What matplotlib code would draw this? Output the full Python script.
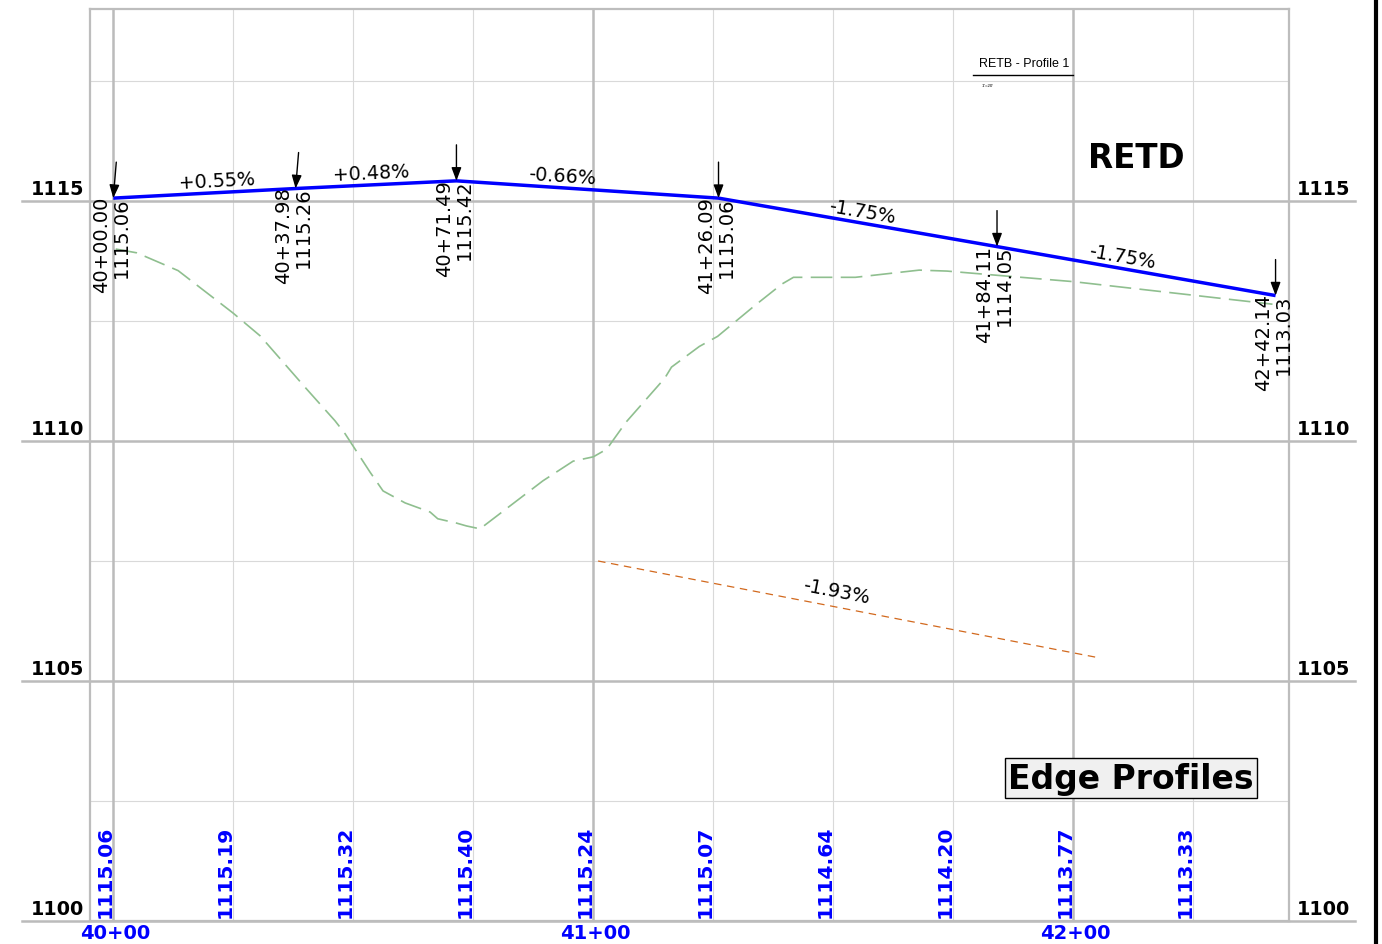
import numpy as np
import matplotlib
matplotlib.use("Agg")
import matplotlib.pyplot as plt
from matplotlib.lines import Line2D

# ---------------- data ----------------
pvi_sta = [4000.00, 4037.98, 4071.49, 4126.09, 4184.11, 4242.14]
pvi_elev = [1115.06, 1115.26, 1115.42, 1115.06, 1114.05, 1113.03]
pvi_sta_labels = ["40+00.00", "40+37.98", "40+71.49", "41+26.09", "41+84.11", "42+42.14"]
pvi_elev_labels = ["1115.06", "1115.26", "1115.42", "1115.06", "1114.05", "1113.03"]

grade_labels = ["+0.55%", "+0.48%", "-0.66%", "-1.75%", "-1.75%"]
grade_label_sta = [4021.7, 4053.75, 4093.3, 4155.6, 4209.7]

ground_sta = [4000.5, 4004.9, 4013.5, 4024.9, 4030.6, 4040.3, 4046.2, 4048.3, 4053.5,
              4056.2, 4060.8, 4066.0, 4067.6, 4071.5, 4073.6, 4076.4, 4089.5, 4095.8,
              4100.0, 4102.8, 4106.8, 4114.9, 4116.3, 4122.1, 4125.9, 4133.5, 4139.3,
              4141.7, 4154.6, 4167.9, 4173.7, 4183.2, 4200.0, 4241.5]
ground_elev = [1114.00, 1113.92, 1113.55, 1112.67, 1112.19, 1111.08, 1110.42, 1110.15, 1109.35,
               1108.96, 1108.71, 1108.52, 1108.38, 1108.29, 1108.23, 1108.17, 1109.17, 1109.58,
               1109.67, 1109.83, 1110.39, 1111.31, 1111.54, 1111.97, 1112.18, 1112.81, 1113.27,
               1113.41, 1113.41, 1113.56, 1113.54, 1113.46, 1113.32, 1112.85]

ditch_sta = [4101.0, 4205.0]
ditch_elev = [1107.50, 1105.49]
ditch_label = "-1.93%"
ditch_label_sta = 4151.4

bottom_sta = [4000, 4025, 4050, 4075, 4100, 4125, 4150, 4175, 4200, 4225]
bottom_elev_labels = ["1115.06", "1115.19", "1115.32", "1115.40", "1115.24",
                      "1115.07", "1114.64", "1114.20", "1113.77", "1113.33"]

station_ticks = [4000, 4100, 4200]
station_tick_labels = ["40+00", "41+00", "42+00"]
elev_ticks = [1100, 1105, 1110, 1115]
elev_tick_labels = ["1100", "1105", "1110", "1115"]
minor_x = [4025, 4050, 4075, 4125, 4150, 4175, 4225]
minor_y = [1102.5, 1107.5, 1112.5, 1117.5]

# ---------------- figure ----------------
W, H = 1382, 945
fig = plt.figure(figsize=(W / 100, H / 100), dpi=100)
fig.patch.set_facecolor("white")
ax = fig.add_axes([90 / W, 23 / H, 1199 / W, 912 / H])
ax.set_xlim(3995.15, 4244.94)
ax.set_ylim(1100, 1119)
ax.set_xticks([])
ax.set_yticks([])
for s in ax.spines.values():
    s.set_color("#bdbdbd")
    s.set_linewidth(1.6)

GRID_MAJ = "#bbbbbb"
GRID_MIN = "#d9d9d9"

for x in minor_x:
    ax.axvline(x, color=GRID_MIN, lw=0.8, zorder=0)
for y in minor_y:
    ax.axhline(y, color=GRID_MIN, lw=0.8, zorder=0)
for x in station_ticks:
    ax.axvline(x, color=GRID_MAJ, lw=1.8, zorder=0.5)
x_left = (22 - 90) / 1199
x_right = (1355 - 90) / 1199
for y in elev_ticks:
    ax.axhline(y, xmin=x_left, xmax=x_right, color=GRID_MAJ, lw=1.8, zorder=0.5, clip_on=False)

# ground (existing) line
ax.plot(ground_sta, ground_elev, color="#8fbf8f", lw=1.2, linestyle=(0, (13, 5)), zorder=2)

# ditch line
ax.plot(ditch_sta, ditch_elev, color="#d2691e", lw=0.9, linestyle=(0, (6, 4.5)), zorder=2)

# profile line
ax.plot(pvi_sta, pvi_elev, color="#0000ff", lw=2.5, zorder=3, solid_capstyle="butt")


def disp_angle(s1, e1, s2, e2):
    p1 = ax.transData.transform((s1, e1))
    p2 = ax.transData.transform((s2, e2))
    return np.degrees(np.arctan2(p2[1] - p1[1], p2[0] - p1[0]))


# arrows and PVI labels
tail_dx = [3, 3, 0, 0, 0, 0]
for i, (s, e) in enumerate(zip(pvi_sta, pvi_elev)):
    ax.annotate("", xy=(s, e), xytext=(tail_dx[i] * 0.72, 36 * 0.72), textcoords="offset points",
                arrowprops=dict(arrowstyle="-|>,head_length=0.8,head_width=0.3", color="black",
                                lw=1.0, shrinkA=0, shrinkB=0, mutation_scale=10), zorder=5)
    ax.annotate(pvi_sta_labels[i] + "\n" + pvi_elev_labels[i], xy=(s, e), xytext=(-1.5, 1.5),
                textcoords="offset points", rotation=90, ha="center", va="top",
                multialignment="right", fontsize=14, color="black", linespacing=1.05, zorder=6)

# grade labels
for lab, ls in zip(grade_labels, grade_label_sta):
    k = int(np.searchsorted(pvi_sta, ls)) - 1
    s1, e1, s2, e2 = pvi_sta[k], pvi_elev[k], pvi_sta[k + 1], pvi_elev[k + 1]
    e = e1 + (e2 - e1) * (ls - s1) / (s2 - s1)
    a = disp_angle(s1, e1, s2, e2)
    d = 8.5
    ar = np.radians(a)
    ax.annotate(lab, xy=(ls, e), xytext=(-np.sin(ar) * d, np.cos(ar) * d), textcoords="offset points",
                rotation=a, rotation_mode="anchor", ha="center", va="center", fontsize=13.8, zorder=6)

# ditch label
a = disp_angle(ditch_sta[0], ditch_elev[0], ditch_sta[1], ditch_elev[1])
e = ditch_elev[0] + (ditch_elev[1] - ditch_elev[0]) * (ditch_label_sta - ditch_sta[0]) / (ditch_sta[1] - ditch_sta[0])
ar = np.radians(a)
d = 12
ax.annotate(ditch_label, xy=(ditch_label_sta - 1.5, e), xytext=(-np.sin(ar) * d, np.cos(ar) * d),
            textcoords="offset points", rotation=a, rotation_mode="anchor", ha="center", va="center",
            fontsize=13.8, zorder=6)

# bottom elevation labels
for s, lab in zip(bottom_sta, bottom_elev_labels):
    ax.annotate(lab, xy=(s, 1100), xytext=(1.2, 3), textcoords="offset points", rotation=90,
                ha="right", va="bottom", fontsize=14.6, fontweight="bold", color="#0000ff",
                annotation_clip=False, zorder=6)

# station labels
for s, lab in zip(station_ticks, station_tick_labels):
    ax.annotate(lab, xy=(s, 1100), xytext=(1.2, -1.2), textcoords="offset points", ha="center", va="top",
                fontsize=14, fontweight="bold", color="#0000ff", annotation_clip=False)

# elevation labels left/right
for y, lab in zip(elev_ticks, elev_tick_labels):
    ax.annotate(lab, xy=(0, y), xycoords=ax.get_yaxis_transform(), xytext=(-4, 2.5),
                textcoords="offset points", ha="right", va="bottom", fontsize=13.8, fontweight="bold",
                annotation_clip=False)
    ax.annotate(lab, xy=(1, y), xycoords=ax.get_yaxis_transform(), xytext=(5.5, 2.5),
                textcoords="offset points", ha="left", va="bottom", fontsize=13.8, fontweight="bold",
                annotation_clip=False)

# title texts
fig.text(1136 / W, 1 - 158 / H, "RETD", fontsize=23.5, fontweight="bold", ha="center", va="center")
fig.text(1024 / W, 1 - 64 / H, "RETB - Profile 1", fontsize=9, ha="center", va="center",
         family=["Liberation Sans Narrow", "Liberation Sans", "DejaVu Sans"])
fig.add_artist(Line2D([973 / W, 1073 / W], [1 - 76 / H, 1 - 76 / H], color="black", lw=1.0))
fig.text(988 / W, 1 - 86 / H, "1\"=20'", fontsize=3.2, ha="center", va="center",
         family=["Liberation Sans", "DejaVu Sans"])

fig.text(1131 / W, 1 - 779 / H, "Edge Profiles", fontsize=23.8, fontweight="bold", ha="center",
         va="center", bbox=dict(boxstyle="square,pad=0.1", facecolor="#f0f0f0", edgecolor="black", lw=1.0))

# right-edge black bar
fig.add_artist(Line2D([1375.5 / W, 1375.5 / W], [0, 1], color="black", lw=3.0))

fig.savefig("out.png", dpi=100)
